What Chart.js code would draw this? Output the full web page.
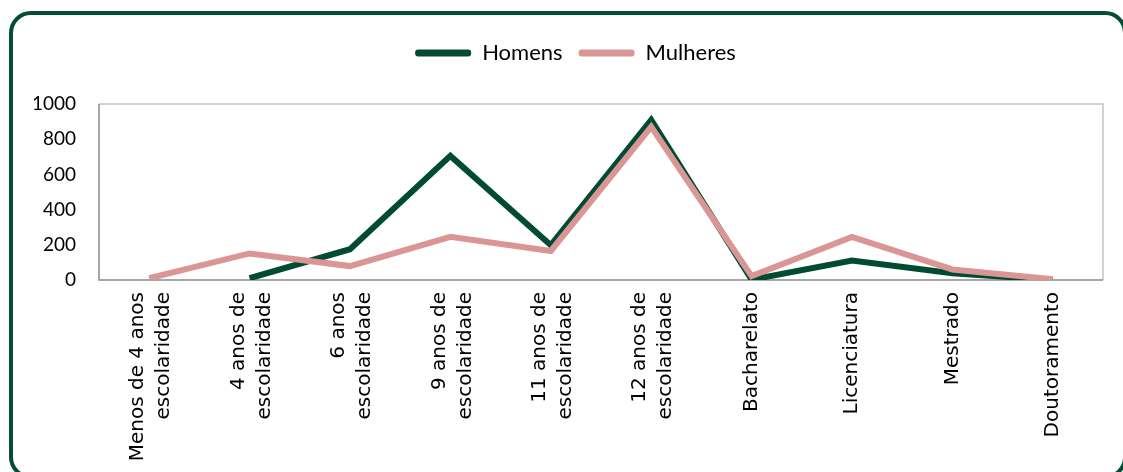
<!DOCTYPE html>
<html>
<head>
<meta charset="utf-8">
<script src="https://cdn.jsdelivr.net/npm/chart.js@4"></script>
<style>
  body { margin: 0; background: #fff; overflow: hidden; }
  #wrap { position: relative; width: 1123px; height: 472px; }
  #frame {
    position: absolute; left: 9px; top: 11px; width: 1118px; height: 468px;
    border: 4px solid #024d34; border-radius: 22px; box-sizing: border-box;
  }
  canvas { position: absolute; left: 0; top: 0; }
</style>
</head>
<body>
<div id="wrap">
  <div id="frame"></div>
  <canvas id="chart" width="1123" height="472"></canvas>
</div>
<script>
// categories (níveis de escolaridade)
const categories = [
  ["Menos de 4 anos", "escolaridade"],
  ["4 anos de", "escolaridade"],
  ["6 anos", "escolaridade"],
  ["9 anos de", "escolaridade"],
  ["11 anos de", "escolaridade"],
  ["12 anos de", "escolaridade"],
  "Bacharelato",
  "Licenciatura",
  "Mestrado",
  "Doutoramento"
];

// series values
const homens = [null, 10, 175, 705, 198, 910, 2, 110, 38, 0];
const mulheres = [10, 151, 79, 245, 165, 870, 22, 245, 60, 4];

const seriesNames = ["Homens", "Mulheres"];
const yTicks = [0, 200, 400, 600, 800, 1000];

const green = "#004b32";
const pink = "#d99694";

// grey box round the plot area
const plotBox = {
  id: "plotBox",
  beforeDatasetsDraw(chart) {
    const { ctx, chartArea: a } = chart;
    ctx.save();
    ctx.strokeStyle = "#c4c4c4";
    ctx.lineWidth = 1.5;
    ctx.beginPath();
    ctx.moveTo(a.left, a.top);
    ctx.lineTo(a.right, a.top);
    ctx.lineTo(a.right, a.bottom);
    ctx.stroke();
    ctx.strokeStyle = "#8a8a8a";
    ctx.beginPath();
    ctx.moveTo(a.left, a.top);
    ctx.lineTo(a.left, a.bottom);
    ctx.lineTo(a.right, a.bottom);
    ctx.stroke();
    ctx.restore();
  }
};

// centre two-line rotated labels on their tick (Chart.js puts the first line on it)
// and nudge the legend to the middle of the frame
const tweaks = {
  id: "tweaks",
  afterLayout(chart) {
    const scale = chart.scales.x;
    const items = scale.getLabelItems(chart.chartArea);
    items.forEach(item => {
      if (Array.isArray(item.label) && !item._moved) {
        item.options.translation[0] -= 11;
        item._moved = true;
      }
    });
    const lg = chart.legend;
    if (lg && !lg._moved) {
      lg.left += 24;
      lg.right += 24;
      lg.legendHitBoxes.forEach(h => { h.left += 24; });
      lg._moved = true;
    }
  }
};

new Chart(document.getElementById("chart"), {
  type: "line",
  data: {
    labels: categories,
    datasets: [
      {
        label: seriesNames[0],
        data: homens,
        borderColor: green,
        backgroundColor: green,
        borderWidth: 6,
        pointRadius: 0,
        tension: 0,
        order: 1
      },
      {
        label: seriesNames[1],
        data: mulheres,
        borderColor: pink,
        backgroundColor: pink,
        borderWidth: 6,
        pointRadius: 0,
        tension: 0,
        order: 0
      }
    ]
  },
  options: {
    responsive: false,
    animation: false,
    layout: { padding: { top: 26, right: 20, left: 0, bottom: 0 } },
    plugins: {
      tooltip: { enabled: false },
      legend: {
        position: "top",
        labels: {
          color: "#000",
          font: { family: "Lato", size: 22 },
          boxWidth: 56,
          boxHeight: 7,
          padding: 16,
          useBorderRadius: true,
          borderRadius: 3,
          generateLabels(chart) {
            return chart.data.datasets.map((ds, i) => ({
              text: ds.label,
              fillStyle: ds.borderColor,
              strokeStyle: ds.borderColor,
              lineWidth: 0,
              borderRadius: 3,
              datasetIndex: i,
              hidden: false
            }));
          }
        }
      },
      // empty spacer between legend and plot
      subtitle: {
        display: true,
        text: "",
        weight: 500,
        font: { size: 1, lineHeight: 1 },
        padding: { top: 29, bottom: 0 }
      }
    },
    scales: {
      x: {
        offset: true,
        grid: { display: false, drawTicks: false },
        border: { display: false },
        afterFit(scale) { scale.height = 192; },
        ticks: {
          autoSkip: false,
          minRotation: 90,
          maxRotation: 90,
          padding: 12,
          color: "#000",
          font: { family: "DejaVu Sans", size: 20, lineHeight: 1.3 }
        }
      },
      y: {
        min: 0,
        max: 1000,
        afterFit(scale) { scale.width = 99; },
        afterBuildTicks(scale) { scale.ticks = yTicks.map(v => ({ value: v })); },
        grid: { display: false, drawTicks: false },
        border: { display: false },
        ticks: {
          padding: 23,
          color: "#000",
          font: { family: "Lato", size: 19 },
          callback: v => String(v)
        }
      }
    }
  },
  plugins: [plotBox, tweaks]
});
</script>
</body>
</html>
